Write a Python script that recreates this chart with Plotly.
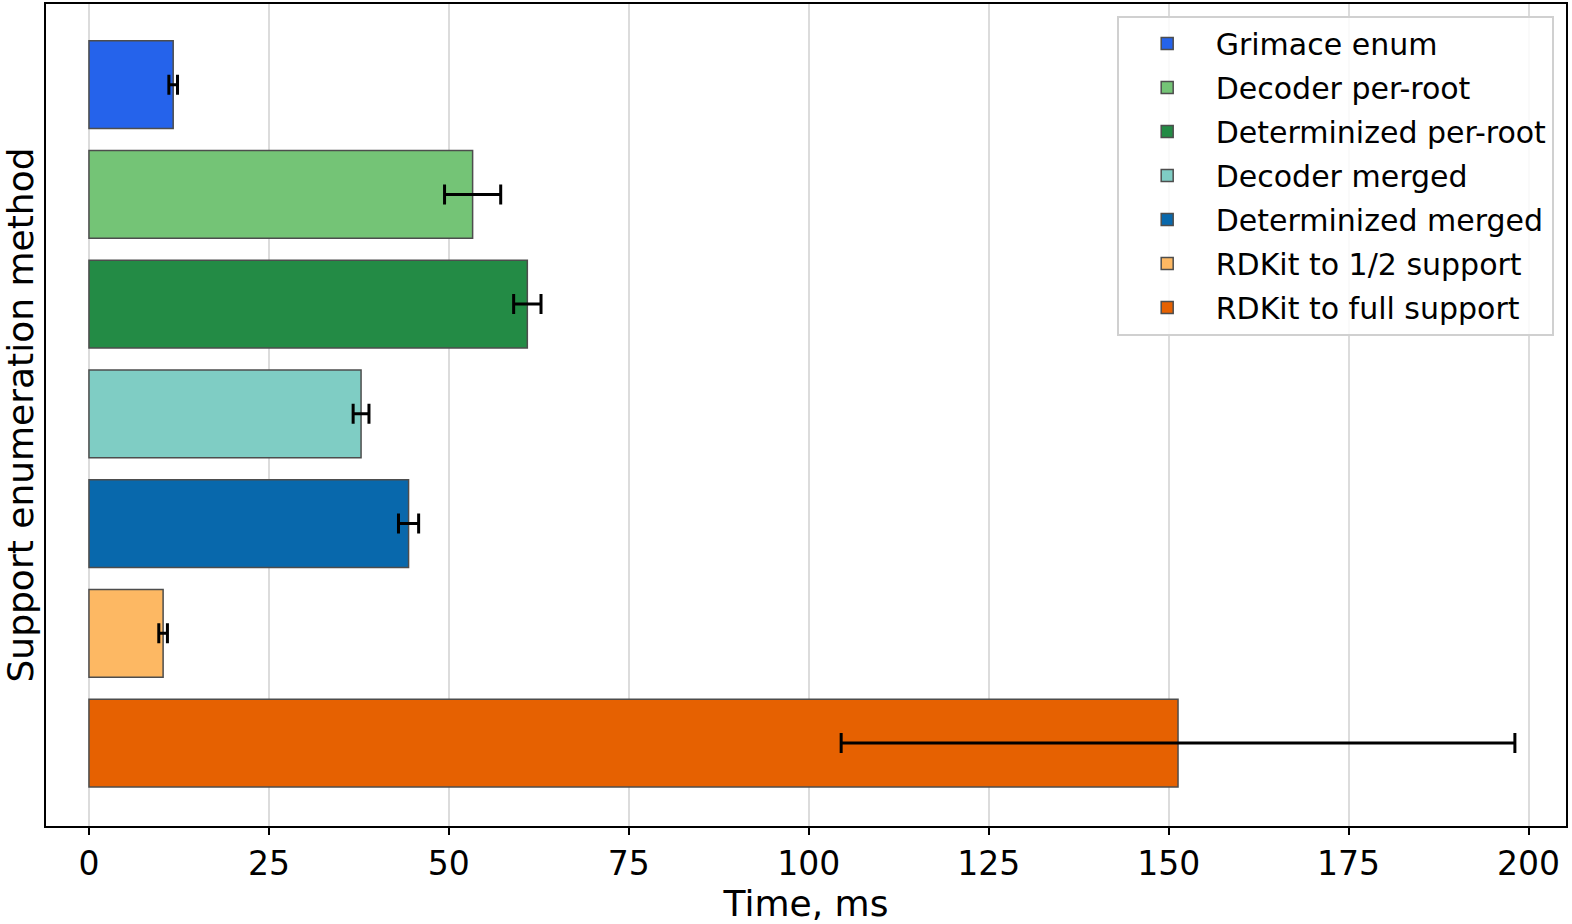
import plotly.graph_objects as go

methods = ["Grimace enum", "Decoder per-root", "Determinized per-root", "Decoder merged",
           "Determinized merged", "RDKit to 1/2 support", "RDKit to full support"]
times_ms = [11.7, 53.3, 60.9, 37.8, 44.4, 10.3, 151.3]
errors_ms = [0.6, 3.9, 1.9, 1.1, 1.4, 0.6, 46.8]
colors = ["#2563eb", "#74c476", "#238b45", "#7fcdc4", "#0868ac", "#fdb863", "#e66101"]
x_ticks = [0, 25, 50, 75, 100, 125, 150, 175, 200]

FONT = "DejaVu Sans"
fig = go.Figure()
for m, t, e, c in zip(methods, times_ms, errors_ms, colors):
    fig.add_trace(go.Bar(
        y=[m], x=[t], orientation="h", name=m, width=0.8, legendgroup=m,
        marker=dict(color=c, line=dict(color="#4d4d4d", width=1.5)),
        error_x=dict(type="data", array=[e], color="black", thickness=3, width=10),
    ))

fig.update_layout(
    width=1572, height=924,
    barmode="overlay",
    plot_bgcolor="white", paper_bgcolor="white",
    margin=dict(l=46, r=6, t=2, b=98),
    font=dict(family=FONT, size=33, color="black"),
    legend=dict(
        x=0.7044, y=0.986, xanchor="left", yanchor="top",
        bgcolor="rgba(255,255,255,0.85)", bordercolor="#d0d0d0", borderwidth=2,
        font=dict(size=30, family=FONT), tracegroupgap=2, itemwidth=87,
    ),
    showlegend=True,
)
fig.update_xaxes(
    range=[-5.97, 205.2], tickvals=x_ticks, ticktext=[str(v) for v in x_ticks],
    showgrid=True, gridcolor="#dcdcdc", gridwidth=1.5, zeroline=False,
    ticks="outside", ticklen=7, tickwidth=2, tickcolor="black",
    showline=True, linecolor="black", linewidth=2, mirror=True,
    title=dict(text="Time, ms", standoff=6, font=dict(size=36)),
    tickfont=dict(size=33),
)
fig.update_yaxes(
    categoryorder="array", categoryarray=methods,
    range=[6.756, -0.735], showticklabels=False, ticks="",
    showgrid=False, zeroline=False,
    showline=True, linecolor="black", linewidth=2, mirror=True,
    title=dict(text="Support enumeration method", standoff=8, font=dict(size=36)),
)
fig.write_html("out.html")
